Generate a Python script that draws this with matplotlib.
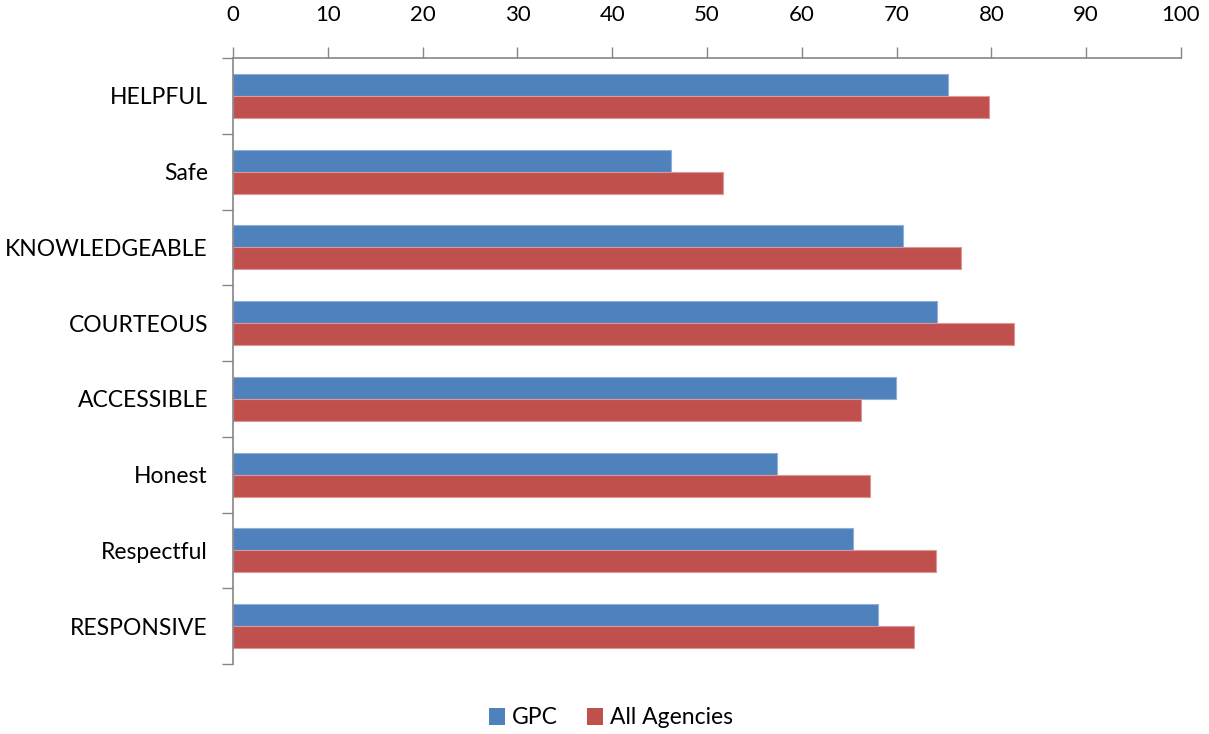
import numpy as np
import matplotlib.pyplot as plt
from matplotlib.patches import Patch

categories = ["HELPFUL", "Safe", "KNOWLEDGEABLE", "COURTEOUS",
              "ACCESSIBLE", "Honest", "Respectful", "RESPONSIVE"]
gpc = [75.4, 46.2, 70.7, 74.3, 69.9, 57.4, 65.4, 68.0]
all_agencies = [79.7, 51.7, 76.8, 82.4, 66.2, 67.2, 74.2, 71.8]
xticks = [0, 10, 20, 30, 40, 50, 60, 70, 80, 90, 100]

blue = "#4F81BD"
red = "#C0504D"
axis_col = "#868686"

plt.rcParams['font.family'] = ['Lato', 'DejaVu Sans']

fig = plt.figure(figsize=(12.09, 7.34), dpi=100)
ax = fig.add_axes([233 / 1209, 1 - 664 / 734, 948 / 1209, 606 / 734])

y = np.arange(len(categories))
h = 0.29
ax.barh(y - h / 2, gpc, height=h, color=blue, edgecolor="#8FAFD6", linewidth=0.8, label="GPC")
ax.barh(y + h / 2, all_agencies, height=h, color=red, edgecolor="#DC9896", linewidth=0.8, label="All Agencies")

ax.set_xlim(0, 100)
ax.set_ylim(len(categories) - 0.5, -0.5)

ax.xaxis.tick_top()
ax.set_xticks(xticks)
ax.set_xticklabels([str(t) for t in xticks], fontsize=16)
ax.tick_params(axis="x", direction="out", length=8, width=1, color=axis_col, pad=16)

ax.set_yticks(y)
ax.set_yticklabels(categories, fontsize=16.5)
ax.set_yticks(np.arange(-0.5, len(categories) + 0.5, 1), minor=True)
ax.tick_params(axis="y", which="major", length=0, pad=18)
ax.tick_params(axis="y", which="minor", direction="out", length=8, width=1, color=axis_col)

for side in ["right", "bottom"]:
    ax.spines[side].set_visible(False)
for side in ["top", "left"]:
    ax.spines[side].set_color(axis_col)
    ax.spines[side].set_linewidth(1.2)

handles = [Patch(facecolor=blue, label="GPC"), Patch(facecolor=red, label="All Agencies")]
fig.legend(handles=handles, loc="center", bbox_to_anchor=(611 / 1209, 1 - 718 / 734),
           ncol=2, frameon=False, fontsize=16.5, handlelength=0.7, handleheight=0.7,
           handletextpad=0.3, columnspacing=1.3)

fig.savefig("out.png", dpi=100)
